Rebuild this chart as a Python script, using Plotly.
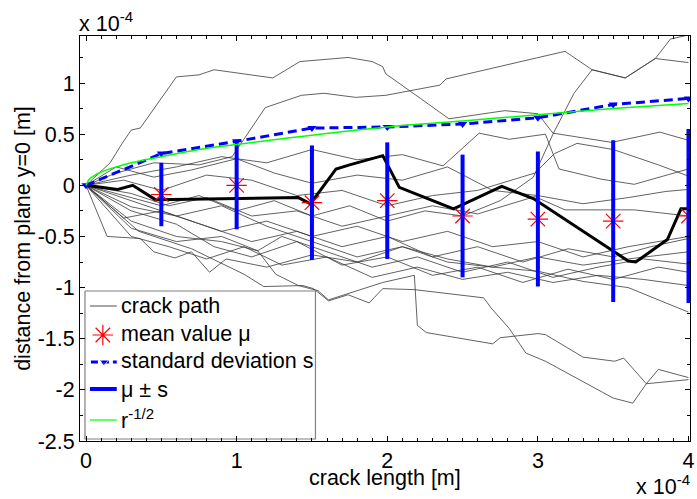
import plotly.graph_objects as go

# ---- data (x in units of 1e-4 m, y in units of 1e-4 m) ----
crack_x = [
    [0, 0.16, 0.24, 0.30, 0.36, 0.6, 0.75, 0.85, 1.24, 1.42, 1.74, 1.9, 1.97, 1.99, 2.22, 2.41, 2.78, 3.0, 3.1, 3.49, 3.81, 3.93, 4.0],
    [0, 0.2, 0.45, 0.75, 0.97, 1.19, 1.43, 1.58, 1.79, 1.99, 2.35, 2.39, 3.18, 3.36, 3.58, 3.78, 3.88, 4.0],
    [0, 0.25, 0.5, 0.75, 1.0, 1.25, 1.5, 1.75, 2.0, 2.25, 2.5, 2.75, 2.97, 3.1, 3.24, 3.36, 3.58, 3.78, 4.0],
    [0, 0.3, 0.6, 0.9, 1.2, 1.5, 1.8, 2.1, 2.37, 2.61, 2.81, 3.05, 3.14, 3.42, 3.64, 4.0],
    [0, 0.25, 0.5, 0.8, 1.1, 1.4, 1.7, 2.0, 2.3, 2.6, 2.98, 3.11, 3.26, 3.5, 3.8, 4.0],
    [0, 0.2, 0.45, 0.7, 1.0, 1.25, 1.5, 1.8, 2.1, 2.4, 2.7, 3.0, 3.3, 3.6, 3.85, 4.0],
    [0, 0.3, 0.55, 0.8, 1.1, 1.4, 1.7, 2.0, 2.3, 2.6, 2.98, 3.18, 3.64, 4.0],
    [0, 0.3, 0.6, 0.9, 1.2, 1.5, 1.8, 2.1, 2.4, 2.7, 3.0, 3.3, 3.6, 3.8, 4.0],
    [0, 0.25, 0.5, 0.8, 1.1, 1.4, 1.7, 2.0, 2.3, 2.6, 2.9, 3.2, 3.5, 3.75, 4.0],
    [0, 0.14, 0.36, 0.45, 0.59, 0.7, 0.82, 0.93, 1.2, 1.5, 1.8, 2.1, 2.4, 2.7, 3.0, 3.3, 3.6, 4.0],
    [0, 0.3, 0.6, 0.9, 1.14, 1.3, 1.6, 1.9, 2.2, 2.5, 2.8, 3.1, 3.4, 3.7, 4.0],
    [0, 0.3, 0.6, 0.85, 1.1, 1.4, 1.7, 2.0, 2.3, 2.6, 2.9, 3.2, 3.5, 3.8, 4.0],
    [0, 0.3, 0.55, 0.8, 1.05, 1.3, 1.6, 1.9, 2.2, 2.5, 2.8, 3.1, 3.4, 3.7, 4.0],
    [0, 0.3, 0.6, 0.9, 1.2, 1.5, 1.8, 2.1, 2.4, 2.7, 3.0, 3.3, 3.6, 3.8, 4.0],
    [0, 0.3, 0.6, 0.9, 1.14, 1.26, 1.41, 1.54, 1.61, 1.74, 1.97, 2.18, 2.2, 2.26, 2.7, 2.75, 3.0, 3.05, 3.3, 3.51, 3.57, 3.72, 3.8, 4.0],
    [0, 0.35, 0.7, 1.05, 1.18, 1.44, 1.51, 1.61, 1.74, 1.88, 1.97, 2.18, 2.64, 2.69, 2.81, 2.92, 3.05, 3.5, 3.63, 3.72, 4.0],
]
crack_y = [
    [0, 0.22, 0.41, 0.54, 0.56, 1.06, 1.08, 1.13, 1.05, 1.21, 1.25, 1.21, 1.16, 1.09, 0.85, 0.65, 0.73, 0.70, 0.51, 0.42, 0.52, 0.47, 0.44],
    [0, 0.12, 0.22, 0.20, 0.28, 0.76, 0.88, 0.90, 0.86, 0.88, 0.98, 1.04, 1.31, 1.13, 1.05, 1.24, 1.43, 1.47],
    [0, -0.10, -0.20, -0.10, -0.25, -0.15, -0.30, -0.20, -0.35, -0.25, -0.30, -0.15, 0.08, 0.50, 0.90, 1.13, 1.05, 1.24, 1.20],
    [0, 0.10, 0.18, 0.28, 0.22, 0.35, 0.25, 0.30, 0.19, 0.51, 0.45, 0.50, 0.16, 0.06, 0.01, 0.16],
    [0, 0.05, -0.05, 0.10, 0.05, -0.10, -0.05, -0.20, -0.10, -0.05, 0.12, 0.31, 0.41, 0.35, 0.20, 0.09],
    [0, 0.18, 0.08, 0.15, 0.26, 0.12, 0.02, 0.10, 0.05, 0.18, -0.05, -0.10, -0.18, -0.12, -0.06, -0.04],
    [0, -0.08, -0.20, -0.12, -0.30, -0.25, -0.40, -0.30, -0.20, -0.28, -0.11, -0.24, -0.24, -0.30],
    [0, -0.21, -0.30, -0.45, -0.35, -0.50, -0.40, -0.55, -0.45, -0.60, -0.55, -0.70, -0.60, -0.55, -0.50],
    [0, -0.32, -0.25, -0.40, -0.55, -0.45, -0.60, -0.50, -0.70, -0.60, -0.75, -0.62, -0.70, -0.60, -0.52],
    [0, -0.50, -0.52, -0.65, -0.71, -0.65, -0.85, -0.72, -0.80, -0.68, -0.75, -0.60, -0.72, -0.80, -0.70, -0.78, -0.72, -0.65],
    [0, -0.42, -0.55, -0.50, -0.64, -0.50, -0.65, -0.80, -0.70, -0.85, -0.75, -0.90, -0.80, -0.72, -0.77],
    [0, -0.25, -0.38, -0.60, -0.70, -0.55, -0.78, -0.70, -0.88, -0.80, -0.95, -0.82, -0.92, -0.80, -0.85],
    [0, -0.50, -0.60, -0.72, -0.60, -0.78, -0.70, -0.90, -0.80, -0.92, -0.85, -0.95, -0.88, -0.92, -0.98],
    [0, -0.15, -0.30, -0.20, -0.40, -0.55, -0.70, -0.60, -0.75, -0.80, -0.84, -0.94, -1.00, -1.12, -1.24],
    [0, -0.35, -0.50, -0.55, -0.64, -0.87, -0.98, -1.03, -1.12, -1.06, -0.95, -0.88, -1.37, -1.44, -1.55, -1.49, -1.45, -1.46, -1.68, -1.72, -1.69, -1.94, -1.80, -1.88],
    [0, -0.45, -0.62, -0.87, -0.99, -0.98, -1.01, -1.13, -1.07, -1.15, -1.01, -1.02, -1.10, -1.20, -1.40, -1.64, -1.72, -2.08, -2.13, -1.94, -1.90],
]
thick_x = [0, 0.21, 0.31, 0.46, 1.41, 1.49, 1.66, 1.75, 1.97, 2.08, 2.44, 2.76, 2.97, 3.49, 3.60, 3.65, 3.86, 3.95, 4.0]
thick_y = [0, -0.04, 0.0, -0.14, -0.12, -0.18, 0.16, 0.20, 0.29, -0.02, -0.23, -0.01, -0.13, -0.63, -0.74, -0.75, -0.53, -0.23, -0.23]

mean_x = [0.5, 1.0, 1.5, 2.0, 2.5, 3.0, 3.5, 4.0]
mean_mu = [-0.09, 0.0, -0.17, -0.15, -0.30, -0.33, -0.35, -0.30]
std_x = [0, 0.5, 1.0, 1.5, 2.0, 2.5, 3.0, 3.5, 4.0]
std_s = [0, 0.31, 0.43, 0.56, 0.57, 0.60, 0.66, 0.79, 0.85]
green_x = [0, 0.02, 0.05, 0.1, 0.2, 0.3, 0.5, 0.75, 1.0, 1.5, 2.0, 2.5, 3.0, 3.5, 4.0]
green_y = [0, 0.057, 0.09, 0.13, 0.18, 0.22, 0.28, 0.35, 0.40, 0.49, 0.57, 0.63, 0.69, 0.75, 0.80]

x_ticks = [0, 1, 2, 3, 4]
y_ticks = [-2.5, -2, -1.5, -1, -0.5, 0, 0.5, 1]
y_ticklabels = ["-2.5", "-2", "-1.5", "-1", "-0.5", "0", "0.5", "1"]
legend_labels = ["crack path", "mean value μ", "standard deviation s", "μ ± s", "r<sup>-1/2</sup>"]

FONT = "Liberation Sans, Arial, sans-serif"
FS = 21.5
RED, BLUE, GREEN, GRAY = "red", "blue", "#00ff00", "#3a3a3a"
fig = go.Figure()

for xs, ys in zip(crack_x, crack_y):
    fig.add_trace(go.Scatter(x=xs, y=ys, mode="lines", line=dict(color=GRAY, width=0.8), showlegend=False))
fig.add_trace(go.Scatter(x=thick_x, y=thick_y, mode="lines", line=dict(color="black", width=3), showlegend=False))

bx, by = [], []
for xv, m, s in zip(mean_x, mean_mu, std_s[1:]):
    bx += [xv, xv, None]
    by += [m - s, m + s, None]

fig.add_trace(go.Scatter(x=mean_x, y=mean_mu, mode="markers", showlegend=False,
                         marker=dict(symbol="asterisk-open", size=17, color=RED, line=dict(color=RED, width=1.2))))
fig.add_trace(go.Scatter(x=std_x, y=std_s, mode="lines+markers", showlegend=False,
                         line=dict(color=BLUE, width=3, dash="9px,5px"),
                         marker=dict(symbol="triangle-down", size=8, color=BLUE)))
fig.add_trace(go.Scatter(x=bx, y=by, mode="lines", line=dict(color=BLUE, width=4), showlegend=False))
fig.add_trace(go.Scatter(x=green_x, y=green_y, mode="lines", showlegend=False,
                         line=dict(color=GREEN, width=1.5, shape="spline")))

# ---- legend box drawn on an overlay axis in pixel units ----
LX0, LX1, LY0, LY1 = 85, 317, 291, 439
rows = [306, 335, 362, 389, 420]
fig.add_trace(go.Scatter(x=[LX0, LX1, LX1, LX0, LX0], y=[LY0, LY0, LY1, LY1, LY0], mode="lines",
                         fill="toself", fillcolor="white", line=dict(color="#808080", width=1.2),
                         xaxis="x2", yaxis="y2", showlegend=False, hoverinfo="skip"))
fig.add_trace(go.Scatter(x=[90, 117], y=[rows[0]] * 2, mode="lines", line=dict(color=GRAY, width=0.9),
                         xaxis="x2", yaxis="y2", showlegend=False, hoverinfo="skip"))
fig.add_trace(go.Scatter(x=[103], y=[rows[1]], mode="markers",
                         marker=dict(symbol="asterisk-open", size=17, color=RED, line=dict(color=RED, width=1.2)),
                         xaxis="x2", yaxis="y2", showlegend=False, hoverinfo="skip"))
fig.add_trace(go.Scatter(x=[91, 104, 117], y=[rows[2]] * 3, mode="lines+markers",
                         line=dict(color=BLUE, width=3, dash="7px,4px"),
                         marker=dict(symbol="triangle-down", size=[0, 8, 0], color=BLUE),
                         xaxis="x2", yaxis="y2", showlegend=False, hoverinfo="skip"))
fig.add_trace(go.Scatter(x=[90, 117], y=[rows[3]] * 2, mode="lines", line=dict(color=BLUE, width=4),
                         xaxis="x2", yaxis="y2", showlegend=False, hoverinfo="skip"))
fig.add_trace(go.Scatter(x=[90, 117], y=[rows[4]] * 2, mode="lines", line=dict(color=GREEN, width=1.2),
                         xaxis="x2", yaxis="y2", showlegend=False, hoverinfo="skip"))
text_rows = [306, 334, 361, 390, 419]
for lab, ty in zip(legend_labels, text_rows):
    fig.add_annotation(text=lab, xref="x2", yref="y2", x=119, y=ty, xanchor="left", yanchor="middle",
                       showarrow=False, font=dict(family=FONT, size=FS, color="black"))

axis_common = dict(showline=True, linecolor="black", linewidth=1, mirror="allticks", ticks="inside",
                   tickcolor="black", ticklen=5, showgrid=False, zeroline=False,
                   ticklabeloverflow="allow",
                   tickfont=dict(family=FONT, size=FS, color="black"))
fig.update_layout(
    width=697, height=499,
    margin=dict(l=80, r=3, t=36, b=58),
    plot_bgcolor="white", paper_bgcolor="white",
    font=dict(family=FONT, size=FS, color="black"),
    showlegend=False,
    xaxis=dict(range=[-0.04, 4.01], tickvals=x_ticks, ticktext=[str(v) for v in x_ticks],
               minor=dict(ticks="inside", dtick=0.1, tick0=0, ticklen=3, tickcolor="black"),
               **axis_common),
    yaxis=dict(range=[-2.5, 1.46], tickvals=y_ticks, ticktext=y_ticklabels,
               minor=dict(ticks="inside", dtick=0.25, tick0=0, ticklen=3, tickcolor="black"),
               **axis_common),
    xaxis2=dict(overlaying="x", anchor="y2", range=[80, 694], visible=False, fixedrange=True),
    yaxis2=dict(overlaying="y", anchor="x2", range=[441, 36], visible=False, fixedrange=True),
)

fig.add_annotation(text="x 10<sup>-4</sup>", xref="paper", yref="paper", x=0, y=1,
                   xanchor="left", yanchor="bottom", showarrow=False, xshift=-3, yshift=-2,
                   font=dict(family=FONT, size=FS))
fig.add_annotation(text="x 10<sup>-4</sup>", xref="paper", yref="paper", x=1, y=0,
                   xanchor="right", yanchor="bottom", showarrow=False, yshift=-60, xshift=2,
                   font=dict(family=FONT, size=FS))
fig.add_annotation(text="crack length [m]", xref="paper", yref="paper", x=0.5, y=-0.0914,
                   xanchor="center", yanchor="middle", showarrow=False,
                   font=dict(family=FONT, size=FS))
fig.add_annotation(text="distance from plane y=0 [m]", xref="paper", yref="paper", x=-0.0945, y=0.5,
                   xanchor="center", yanchor="middle", textangle=-90, showarrow=False,
                   font=dict(family=FONT, size=FS))

fig.write_html("out.html", config={"displayModeBar": False},
               post_script="document.body.style.margin='0';document.body.style.overflow='hidden';")
